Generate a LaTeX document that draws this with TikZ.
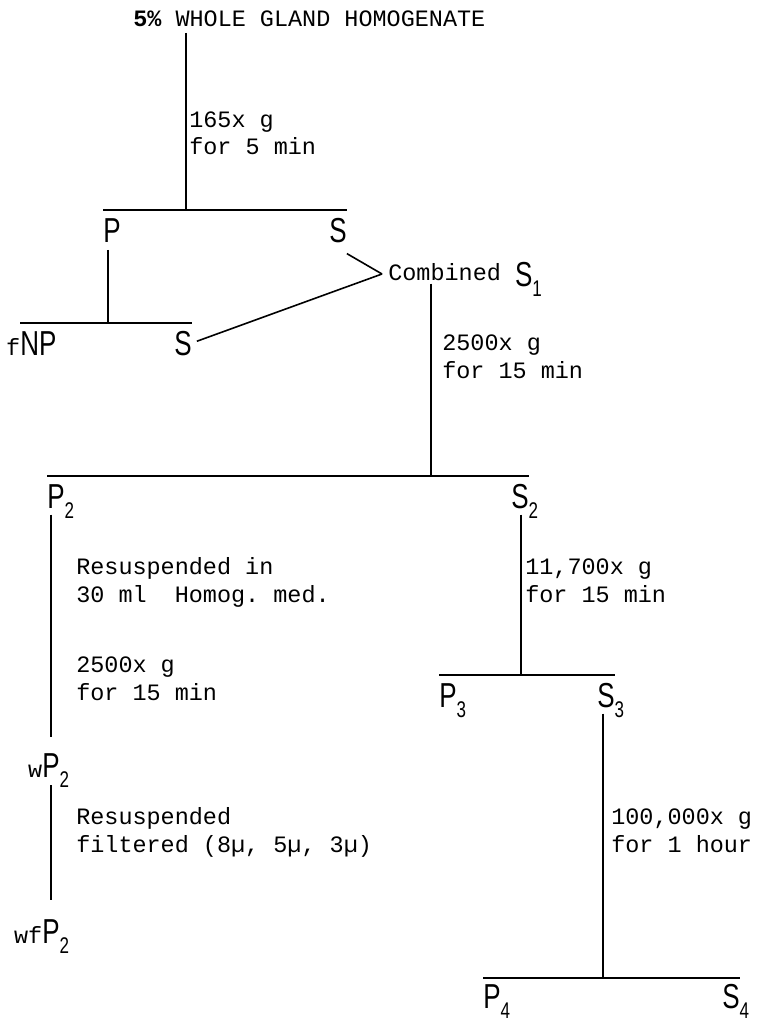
\documentclass[tikz,border=0pt]{standalone}
\usepackage{fontspec}
\setmonofont{Liberation Mono}
\newfontfamily\sepfont[FakeStretch=0.75]{Liberation Sans}
\usetikzlibrary{positioning}

% fraction letters, with and without subscript
\newcommand\frl[1]{{\sepfont\fontsize{26}{26}\selectfont #1}}
\newcommand\frn[2]{{\sepfont\fontsize{26}{26}\selectfont #1\rlap{\raisebox{-7.5pt}{\fontsize{17}{17}\selectfont #2}}}}

\begin{document}
\begin{tikzpicture}[
  x=0.75pt, y=-0.75pt,
  font=\ttfamily\fontsize{17.6}{20.3}\selectfont,
  frac/.style={inner sep=0pt, anchor=base west},
  cond/.style={inner sep=0pt, anchor=base west, align=left},
  spin/.style={line width=1.2pt},
  bar/.style={line width=1.8pt}
]
\path[fill=white, use as bounding box] (0,0) rectangle (766,1023);

% fractions
\node[frac] (whole) at (133,27) {{\bfseries 5\%} WHOLE GLAND HOMOGENATE};
\node[frac] (pa) at (103,243) {\frl{P}};
\node[frac] (sa) at (329,243) {\frl{S}};
\node[frac] (fnp) at (20,355) {\llap{f}\frl{NP}};
\node[frac] (sb) at (174,355) {\frl{S}};
\node[frac] (s1) at (388,281) {Combined \raisebox{-4.5pt}{\frn{S}{1}}};
\node[frac] (p2) at (47,508) {\frn{P}{2}};
\node[frac] (s2) at (511,508) {\frn{S}{2}};
\node[frac] (wp2) at (42,777) {\llap{w}\frn{P}{2}};
\node[frac] (wfp2) at (42,943) {\llap{wf}\frn{P}{2}};
\node[frac] (p3) at (439,707) {\frn{P}{3}};
\node[frac] (s3) at (597,707) {\frn{S}{3}};
\node[frac] (p4) at (483,1008) {\frn{P}{4}};
\node[frac] (s4) at (722,1008) {\frn{S}{4}};

% run conditions (placed by the baseline of the last line)
\node[cond] at (189,155) {165x g\\for 5 min};
\node[cond] at (442,378) {2500x g\\for 15 min};
\node[cond] at (76,602) {Resuspended in\\30 ml\ \ Homog. med.};
\node[cond] at (76,700) {2500x g\\for 15 min};
\node[cond] at (76,852) {Resuspended\\filtered (8µ, 5µ, 3µ)};
\node[cond] at (525,602) {11,700x g\\for 15 min};
\node[cond] at (611,852) {100,000x g\\for 1 hour};

% junctions
\coordinate (j1) at (186,210);
\coordinate (j2) at (108,323);
\coordinate (k1) at (382,274);
\coordinate (j3) at (431,476);
\coordinate (j4) at (51,476);
\coordinate (j5) at (521,675);
\coordinate (j6) at (603,978);

% spins
\draw[spin, shorten <=4pt] (whole.south -| j1) -- (j1);
\draw[spin, shorten <=5pt] (pa.south -| j2) -- (j2);
\draw[spin] ([shift={(0,10)}]sa.south east) -- (k1);
\draw[spin, shorten <=4pt] (sb.east) -- (k1);
\draw[spin, shorten <=2pt] (s1.base -| j3) -- (j3);
\draw[spin, shorten <=5pt, shorten >=12pt] (p2.base -| j4) -- (wp2.north -| j4);
\draw[spin, shorten <=6pt, shorten >=14pt] (wp2.base -| j4) -- (wfp2.north -| j4);
\draw[spin, shorten <=5pt] (s2.base -| j5) -- (j5);
\draw[spin, shorten <=5pt] (s3.base -| j6) -- (j6);

% splits
\draw[bar] (pa.west |- j1) -- (sa.east |- j1);
\draw[bar] (fnp.west |- j2) -- (sb.east |- j2);
\draw[bar] (p2.west |- j3) -- (s2.east |- j3);
\draw[bar] (p3.west |- j5) -- (s3.east |- j5);
\draw[bar] (p4.west |- j6) -- (s4.east |- j6);
\end{tikzpicture}
\end{document}
